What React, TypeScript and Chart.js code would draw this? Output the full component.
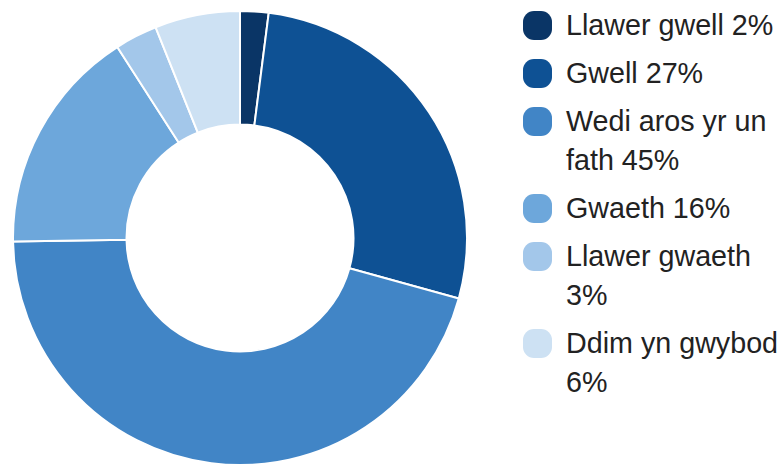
import React, { useEffect, useRef } from "react";
import { Chart, registerables } from "chart.js";

Chart.register(...registerables);

const labels = ["Llawer gwell", "Gwell", "Wedi aros yr un fath", "Gwaeth", "Llawer gwaeth", "Ddim yn gwybod"];
const values = [2, 27, 45, 16, 3, 6];
const colors = ["#0a3566", "#0e5194", "#4185c6", "#6da7db", "#a3c7ea", "#cde1f3"];

export default function App() {
  const ref = useRef<HTMLCanvasElement | null>(null);
  useEffect(() => {
    if (!ref.current) return;
    const chart = new Chart(ref.current, {
      type: "doughnut",
      data: {
        labels,
        datasets: [
          {
            data: values,
            backgroundColor: colors,
            borderColor: "#ffffff",
            borderWidth: 2,
            hoverOffset: 0,
          },
        ],
      },
      options: {
        animation: false,
        responsive: false,
        maintainAspectRatio: false,
        cutout: "50%",
        layout: { padding: 0 },
        plugins: { legend: { display: false }, tooltip: { enabled: false } },
      },
    });
    return () => chart.destroy();
  }, []);

  return (
    <div style={{ position: "absolute", left: 0, top: 0, width: 784, height: 464, background: "#fff", overflow: "hidden" }}>
      <canvas ref={ref} width={456} height={456} style={{ position: "absolute", left: 12, top: 10, width: 456, height: 456 }} />
      <div
        style={{
          position: "absolute",
          left: 523,
          top: 5.5,
          width: 261,
          fontFamily: "'Liberation Sans', Arial, sans-serif",
          fontSize: 28.7,
          lineHeight: "39px",
          color: "#222",
        }}
      >
        {labels.map((l, i) => (
          <div key={l} style={{ display: "flex", alignItems: "flex-start", marginBottom: 9 }}>
            <div
              style={{
                width: 29,
                height: 29,
                borderRadius: 11,
                background: colors[i],
                marginTop: 5,
                flex: "0 0 auto",
              }}
            />
            <div style={{ marginLeft: 14, width: 218 }}>{`${l} ${values[i]}%`}</div>
          </div>
        ))}
      </div>
    </div>
  );
}
